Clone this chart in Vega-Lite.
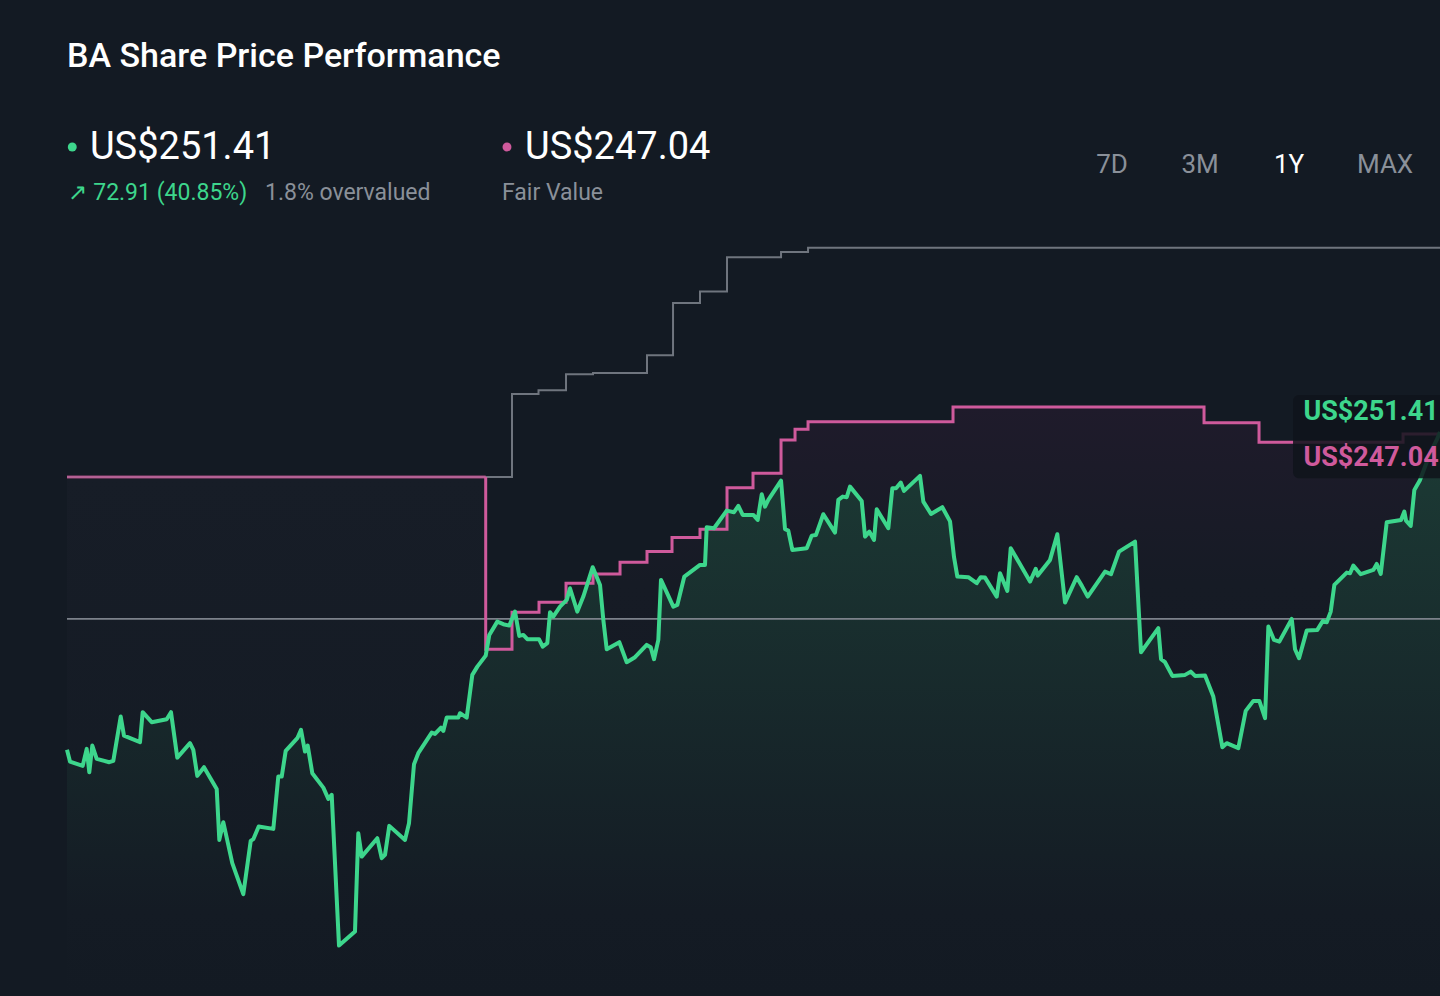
{
  "$schema": "https://vega.github.io/schema/vega-lite/v6.json",
  "width": 1440,
  "height": 996,
  "autosize": {"type": "none"},
  "padding": 0,
  "background": "#131a23",
  "config": {"view": {"stroke": null}, "font": "Roboto"},
  "datasets": {
    "price": [
      {"day": 0, "usd": 178.5}, {"day": 0.8, "usd": 175.78}, {"day": 4.17, "usd": 174.79}, {"day": 5.24, "usd": 178.69},
      {"day": 5.93, "usd": 173.35}, {"day": 6.73, "usd": 179.45}, {"day": 7.9, "usd": 176.4}, {"day": 11.25, "usd": 175.64},
      {"day": 12.31, "usd": 175.94}, {"day": 14.28, "usd": 186.1}, {"day": 15.15, "usd": 181.74}, {"day": 19.41, "usd": 180.23},
      {"day": 20.12, "usd": 187.11}, {"day": 22.52, "usd": 184.82}, {"day": 26.51, "usd": 185.5}, {"day": 27.65, "usd": 187.11},
      {"day": 29.32, "usd": 176.69}, {"day": 32.7, "usd": 180.0}, {"day": 33.58, "usd": 178.46}, {"day": 34.64, "usd": 172.5},
      {"day": 36.42, "usd": 174.49}, {"day": 39.8, "usd": 169.51}, {"day": 40.49, "usd": 157.81}, {"day": 41.55, "usd": 161.88},
      {"day": 43.94, "usd": 152.47}, {"day": 46.87, "usd": 145.36}, {"day": 48.84, "usd": 157.59}, {"day": 49.53, "usd": 157.98},
      {"day": 50.96, "usd": 160.87}, {"day": 54.85, "usd": 160.34}, {"day": 56.17, "usd": 172.34}, {"day": 57.08, "usd": 172.34},
      {"day": 58.14, "usd": 178.23}, {"day": 61.23, "usd": 181.14}, {"day": 62.21, "usd": 183.05}, {"day": 63.27, "usd": 178.07},
      {"day": 63.99, "usd": 179.45}, {"day": 65.21, "usd": 173.12}, {"day": 68.14, "usd": 169.81}, {"day": 69.47, "usd": 167.22},
      {"day": 70.37, "usd": 168.14}, {"day": 72.31, "usd": 133.57}, {"day": 76.56, "usd": 136.78}, {"day": 77.44, "usd": 159.35},
      {"day": 78.35, "usd": 153.98}, {"day": 82.49, "usd": 158.2}, {"day": 83.66, "usd": 153.62}, {"day": 84.54, "usd": 154.37},
      {"day": 85.68, "usd": 161.03}, {"day": 89.86, "usd": 157.81}, {"day": 90.92, "usd": 161.65}, {"day": 92.25, "usd": 175.18},
      {"day": 93.39, "usd": 177.7}, {"day": 96.96, "usd": 182.43}, {"day": 97.83, "usd": 182.13}, {"day": 99.43, "usd": 183.58},
      {"day": 100.04, "usd": 182.82}, {"day": 100.94, "usd": 185.87}, {"day": 104.03, "usd": 185.87}, {"day": 104.48, "usd": 186.88},
      {"day": 106.26, "usd": 185.87}, {"day": 107.75, "usd": 195.67}, {"day": 109.08, "usd": 197.57}, {"day": 111.31, "usd": 200.09},
      {"day": 112.27, "usd": 204.84}, {"day": 114.39, "usd": 207.89}, {"day": 115.99, "usd": 207.3}, {"day": 117.59, "usd": 206.98},
      {"day": 119.1, "usd": 210.19}, {"day": 120.24, "usd": 204.61}, {"day": 121.31, "usd": 204.84}, {"day": 122.37, "usd": 203.86},
      {"day": 125.48, "usd": 203.86}, {"day": 126.46, "usd": 202.16}, {"day": 127.69, "usd": 202.94}, {"day": 128.41, "usd": 210.05},
      {"day": 129.28, "usd": 209.04}, {"day": 131.06, "usd": 211.33}, {"day": 132.85, "usd": 212.87}, {"day": 133.72, "usd": 215.55},
      {"day": 135.66, "usd": 210.19}, {"day": 137.26, "usd": 213.63}, {"day": 139.76, "usd": 220.37}, {"day": 141.7, "usd": 216.31},
      {"day": 142.58, "usd": 208.28}, {"day": 143.48, "usd": 201.56}, {"day": 146.83, "usd": 203.17}, {"day": 148.8, "usd": 198.58},
      {"day": 151.0, "usd": 199.73}, {"day": 154.11, "usd": 202.55}, {"day": 155.18, "usd": 202.02}, {"day": 156.05, "usd": 199.27},
      {"day": 157.2, "usd": 203.69}, {"day": 157.91, "usd": 217.46}, {"day": 161.18, "usd": 211.33}, {"day": 162.25, "usd": 211.72},
      {"day": 164.11, "usd": 218.22}, {"day": 168.28, "usd": 220.9}, {"day": 169.61, "usd": 220.9}, {"day": 170.06, "usd": 229.55},
      {"day": 172.0, "usd": 229.32}, {"day": 175.38, "usd": 233.36}, {"day": 177.32, "usd": 232.99}, {"day": 178.47, "usd": 234.43},
      {"day": 179.63, "usd": 232.37}, {"day": 182.46, "usd": 232.37}, {"day": 183.62, "usd": 231.22}, {"day": 184.69, "usd": 237.12},
      {"day": 185.56, "usd": 234.27}, {"day": 186.44, "usd": 235.81}, {"day": 189.82, "usd": 240.24}, {"day": 190.88, "usd": 229.09},
      {"day": 191.75, "usd": 228.77}, {"day": 192.82, "usd": 224.34}, {"day": 196.65, "usd": 224.73}, {"day": 197.98, "usd": 227.62},
      {"day": 199.12, "usd": 227.78}, {"day": 201.06, "usd": 232.53}, {"day": 204.17, "usd": 228.31}, {"day": 205.05, "usd": 235.81},
      {"day": 206.22, "usd": 236.57}, {"day": 207.28, "usd": 236.43}, {"day": 208.16, "usd": 238.86}, {"day": 211.27, "usd": 235.58},
      {"day": 212.15, "usd": 227.39}, {"day": 213.29, "usd": 228.54}, {"day": 214.54, "usd": 226.63}, {"day": 215.26, "usd": 233.68},
      {"day": 218.34, "usd": 229.32}, {"day": 219.41, "usd": 238.49}, {"day": 220.39, "usd": 238.49}, {"day": 221.64, "usd": 239.78},
      {"day": 222.52, "usd": 237.88}, {"day": 226.77, "usd": 241.32}, {"day": 227.65, "usd": 235.42}, {"day": 229.69, "usd": 232.6},
      {"day": 232.7, "usd": 234.14}, {"day": 234.75, "usd": 230.88}, {"day": 235.81, "usd": 222.67}, {"day": 236.69, "usd": 218.22},
      {"day": 239.61, "usd": 218.08}, {"day": 241.84, "usd": 216.7}, {"day": 242.91, "usd": 218.08}, {"day": 244.05, "usd": 217.99},
      {"day": 247.16, "usd": 213.63}, {"day": 248.04, "usd": 219.0}, {"day": 249.98, "usd": 214.94}, {"day": 250.88, "usd": 224.73},
      {"day": 256.01, "usd": 217.07}, {"day": 257.53, "usd": 219.98}, {"day": 258.06, "usd": 218.45}, {"day": 261.33, "usd": 222.05},
      {"day": 263.27, "usd": 227.94}, {"day": 265.32, "usd": 212.25}, {"day": 268.43, "usd": 218.08}, {"day": 269.76, "usd": 216.15},
      {"day": 271.35, "usd": 213.63}, {"day": 275.95, "usd": 219.36}, {"day": 277.55, "usd": 218.77}, {"day": 279.67, "usd": 223.95},
      {"day": 283.93, "usd": 226.24}, {"day": 285.52, "usd": 200.87}, {"day": 290.12, "usd": 206.38}, {"day": 290.84, "usd": 199.27},
      {"day": 291.9, "usd": 198.58}, {"day": 293.84, "usd": 195.44}, {"day": 297.22, "usd": 195.67}, {"day": 298.74, "usd": 196.42},
      {"day": 299.88, "usd": 195.44}, {"day": 302.54, "usd": 195.51}, {"day": 304.74, "usd": 190.69}, {"day": 307.14, "usd": 179.08},
      {"day": 308.3, "usd": 180.0}, {"day": 311.39, "usd": 178.85}, {"day": 313.35, "usd": 187.41}, {"day": 315.38, "usd": 189.7},
      {"day": 316.97, "usd": 189.7}, {"day": 318.49, "usd": 185.73}, {"day": 319.37, "usd": 206.75}, {"day": 320.88, "usd": 203.69},
      {"day": 322.29, "usd": 203.3}, {"day": 325.59, "usd": 208.51}, {"day": 326.46, "usd": 201.56}, {"day": 327.53, "usd": 199.5},
      {"day": 329.57, "usd": 205.83}, {"day": 332.39, "usd": 205.99}, {"day": 333.83, "usd": 208.05}, {"day": 334.89, "usd": 207.75},
      {"day": 335.95, "usd": 210.19}, {"day": 336.91, "usd": 216.31}, {"day": 340.21, "usd": 219.13}, {"day": 341.09, "usd": 219.0},
      {"day": 341.96, "usd": 220.74}, {"day": 343.93, "usd": 218.77}, {"day": 347.28, "usd": 219.75}, {"day": 348.18, "usd": 221.13},
      {"day": 349.25, "usd": 218.84}, {"day": 350.84, "usd": 230.7}, {"day": 354.64, "usd": 231.22}, {"day": 355.52, "usd": 233.13},
      {"day": 355.97, "usd": 231.06}, {"day": 357.22, "usd": 229.85}, {"day": 358.18, "usd": 238.1}, {"day": 359.7, "usd": 240.4},
      {"day": 362.36, "usd": 246.52}, {"day": 364.13, "usd": 249.57}, {"day": 365, "usd": 251.41}
    ],
    "fairValueEarly": [
      {"day": 0, "usd": 241.09}, {"day": 111.31, "usd": 241.09}
    ],
    "fairValue": [
      {"day": 111.31, "usd": 241.09}, {"day": 111.31, "usd": 201.56}, {"day": 118.3, "usd": 210.05}, {"day": 125.48, "usd": 212.34},
      {"day": 132.66, "usd": 216.7}, {"day": 139.84, "usd": 218.84}, {"day": 147.02, "usd": 221.52}, {"day": 154.19, "usd": 223.95},
      {"day": 160.84, "usd": 227.16}, {"day": 168.28, "usd": 229.09}, {"day": 175.46, "usd": 238.63}, {"day": 182.37, "usd": 241.94},
      {"day": 189.82, "usd": 249.57}, {"day": 193.54, "usd": 252.03}, {"day": 197.0, "usd": 253.77}, {"day": 235.54, "usd": 257.15},
      {"day": 302.27, "usd": 253.54}, {"day": 316.89, "usd": 249.05}, {"day": 355.18, "usd": 250.95}, {"day": 365, "usd": 250.95}
    ],
    "target": [
      {"day": 0, "usd": 241.09}, {"day": 118.3, "usd": 260.13}, {"day": 125.35, "usd": 260.98}, {"day": 132.66, "usd": 264.65},
      {"day": 139.84, "usd": 264.94}, {"day": 154.19, "usd": 269.01}, {"day": 161.11, "usd": 281.0}, {"day": 168.28, "usd": 283.6},
      {"day": 175.46, "usd": 291.49}, {"day": 189.82, "usd": 292.7}, {"day": 197.0, "usd": 293.69}, {"day": 365, "usd": 293.69}
    ]
  },
  "layer": [
    {
      "data": {"name": "fairValue"},
      "mark": {"type": "area", "interpolate": "step-after",
        "color": {"gradient": "linear", "x1": 0, "y1": 0, "x2": 0, "y2": 1,
          "stops": [{"offset": 0, "color": "#1f1b2b"}, {"offset": 0.3, "color": "#161b25"}, {"offset": 1, "color": "#131a23"}]}},
      "encoding": {
        "x": {"field": "day", "type": "quantitative", "axis": null, "scale": {"domain": [-17.81, 365], "nice": false, "zero": false}},
        "y": {"field": "usd", "type": "quantitative", "axis": null, "scale": {"domain": [122, 350.5], "nice": false, "zero": false}},
        "y2": {"datum": 122}
      }
    },
    {
      "data": {"name": "fairValueEarly"},
      "mark": {"type": "area",
        "color": {"gradient": "linear", "x1": 0, "y1": 0, "x2": 0, "y2": 1,
          "stops": [{"offset": 0, "color": "#171d27"}, {"offset": 1, "color": "#131a23"}]}},
      "encoding": {
        "x": {"field": "day", "type": "quantitative", "axis": null, "scale": {"domain": [-17.81, 365], "nice": false, "zero": false}},
        "y": {"field": "usd", "type": "quantitative", "axis": null, "scale": {"domain": [122, 350.5], "nice": false, "zero": false}},
        "y2": {"datum": 122}
      }
    },
    {
      "data": {"name": "price"},
      "mark": {"type": "area",
        "color": {"gradient": "linear", "x1": 0, "y1": 0, "x2": 0, "y2": 1,
          "stops": [{"offset": 0, "color": "#1c3b35"}, {"offset": 0.85, "color": "#141b24"}, {"offset": 1, "color": "#131a23"}]}},
      "encoding": {
        "x": {"field": "day", "type": "quantitative", "axis": null, "scale": {"domain": [-17.81, 365], "nice": false, "zero": false}},
        "y": {"field": "usd", "type": "quantitative", "axis": null, "scale": {"domain": [122, 350.5], "nice": false, "zero": false}},
        "y2": {"datum": 122}
      }
    },
    {
      "data": {"values": [{"level": 208.51}]},
      "mark": {"type": "rule", "color": "#7c828b", "strokeWidth": 1.6},
      "encoding": {
        "x": {"datum": 0, "type": "quantitative", "axis": null, "scale": {"domain": [-17.81, 365], "nice": false, "zero": false}},
        "x2": {"datum": 365},
        "y": {"field": "level", "type": "quantitative", "axis": null, "scale": {"domain": [122, 350.5], "nice": false, "zero": false}}
      }
    },
    {
      "data": {"name": "target"},
      "mark": {"type": "line", "interpolate": "step-after", "color": "#6f757e", "strokeWidth": 2},
      "encoding": {
        "x": {"field": "day", "type": "quantitative", "axis": null, "scale": {"domain": [-17.81, 365], "nice": false, "zero": false}},
        "y": {"field": "usd", "type": "quantitative", "axis": null, "scale": {"domain": [122, 350.5], "nice": false, "zero": false}}
      }
    },
    {
      "data": {"name": "fairValueEarly"},
      "mark": {"type": "line", "color": "#cf5a9c", "opacity": 0.72, "strokeWidth": 3},
      "encoding": {
        "x": {"field": "day", "type": "quantitative", "axis": null, "scale": {"domain": [-17.81, 365], "nice": false, "zero": false}},
        "y": {"field": "usd", "type": "quantitative", "axis": null, "scale": {"domain": [122, 350.5], "nice": false, "zero": false}}
      }
    },
    {
      "data": {"name": "fairValue"},
      "mark": {"type": "line", "interpolate": "step-after", "color": "#cf5a9c", "strokeWidth": 3},
      "encoding": {
        "x": {"field": "day", "type": "quantitative", "axis": null, "scale": {"domain": [-17.81, 365], "nice": false, "zero": false}},
        "y": {"field": "usd", "type": "quantitative", "axis": null, "scale": {"domain": [122, 350.5], "nice": false, "zero": false}}
      }
    },
    {
      "data": {"name": "price"},
      "mark": {"type": "line", "color": "#3dd68c", "strokeWidth": 4, "strokeJoin": "round"},
      "encoding": {
        "x": {"field": "day", "type": "quantitative", "axis": null, "scale": {"domain": [-17.81, 365], "nice": false, "zero": false}},
        "y": {"field": "usd", "type": "quantitative", "axis": null, "scale": {"domain": [122, 350.5], "nice": false, "zero": false}}
      }
    },
    {
      "data": {"values": [{}]},
      "mark": {"type": "rect", "color": "#0f141b", "opacity": 0.85, "cornerRadius": 6},
      "encoding": {
        "x": {"datum": 325.93, "type": "quantitative", "scale": {"domain": [-17.81, 365], "nice": false, "zero": false}},
        "x2": {"datum": 372},
        "y": {"datum": 259.9, "type": "quantitative", "scale": {"domain": [122, 350.5], "nice": false, "zero": false}},
        "y2": {"datum": 240.8}
      }
    },
    {
      "data": {"values": [{}]},
      "mark": {"type": "text", "text": "US$251.41", "align": "left", "baseline": "middle",
        "fontSize": 27, "fontWeight": "bold", "color": "#3dd68c"},
      "encoding": {
        "x": {"datum": 328.7, "type": "quantitative", "scale": {"domain": [-17.81, 365], "nice": false, "zero": false}},
        "y": {"datum": 255.98, "type": "quantitative", "scale": {"domain": [122, 350.5], "nice": false, "zero": false}}
      }
    },
    {
      "data": {"values": [{}]},
      "mark": {"type": "text", "text": "US$247.04", "align": "left", "baseline": "middle",
        "fontSize": 27, "fontWeight": "bold", "color": "#cf5a9c"},
      "encoding": {
        "x": {"datum": 328.7, "type": "quantitative", "scale": {"domain": [-17.81, 365], "nice": false, "zero": false}},
        "y": {"datum": 245.43, "type": "quantitative", "scale": {"domain": [122, 350.5], "nice": false, "zero": false}}
      }
    },
    {
      "data": {"values": [{}]},
      "mark": {"type": "text", "text": "BA Share Price Performance", "align": "left", "baseline": "middle",
        "fontSize": 34, "fontWeight": 500, "color": "#ffffff"},
      "encoding": {
        "x": {"datum": 0, "type": "quantitative", "scale": {"domain": [-17.81, 365], "nice": false, "zero": false}},
        "y": {"datum": 337.5, "type": "quantitative", "scale": {"domain": [122, 350.5], "nice": false, "zero": false}}
      }
    },
    {
      "data": {"values": [{}]},
      "mark": {"type": "circle", "size": 80, "opacity": 1, "color": "#3dd68c"},
      "encoding": {
        "x": {"datum": 1.4, "type": "quantitative", "scale": {"domain": [-17.81, 365], "nice": false, "zero": false}},
        "y": {"datum": 316.78, "type": "quantitative", "scale": {"domain": [122, 350.5], "nice": false, "zero": false}}
      }
    },
    {
      "data": {"values": [{}]},
      "mark": {"type": "text", "text": "US$251.41", "align": "left", "baseline": "middle",
        "fontSize": 38, "color": "#ffffff"},
      "encoding": {
        "x": {"datum": 6.11, "type": "quantitative", "scale": {"domain": [-17.81, 365], "nice": false, "zero": false}},
        "y": {"datum": 316.5, "type": "quantitative", "scale": {"domain": [122, 350.5], "nice": false, "zero": false}}
      }
    },
    {
      "data": {"values": [{}]},
      "mark": {"type": "text", "text": "↗ 72.91 (40.85%)", "align": "left", "baseline": "middle",
        "fontSize": 23, "color": "#3dd68c"},
      "encoding": {
        "x": {"datum": 0.4, "type": "quantitative", "scale": {"domain": [-17.81, 365], "nice": false, "zero": false}},
        "y": {"datum": 306.2, "type": "quantitative", "scale": {"domain": [122, 350.5], "nice": false, "zero": false}}
      }
    },
    {
      "data": {"values": [{}]},
      "mark": {"type": "text", "text": "1.8% overvalued", "align": "left", "baseline": "middle",
        "fontSize": 23, "color": "#8a9099"},
      "encoding": {
        "x": {"datum": 52.64, "type": "quantitative", "scale": {"domain": [-17.81, 365], "nice": false, "zero": false}},
        "y": {"datum": 306.2, "type": "quantitative", "scale": {"domain": [122, 350.5], "nice": false, "zero": false}}
      }
    },
    {
      "data": {"values": [{}]},
      "mark": {"type": "circle", "size": 80, "opacity": 1, "color": "#cf5a9c"},
      "encoding": {
        "x": {"datum": 116.97, "type": "quantitative", "scale": {"domain": [-17.81, 365], "nice": false, "zero": false}},
        "y": {"datum": 316.78, "type": "quantitative", "scale": {"domain": [122, 350.5], "nice": false, "zero": false}}
      }
    },
    {
      "data": {"values": [{}]},
      "mark": {"type": "text", "text": "US$247.04", "align": "left", "baseline": "middle",
        "fontSize": 38, "color": "#ffffff"},
      "encoding": {
        "x": {"datum": 121.76, "type": "quantitative", "scale": {"domain": [-17.81, 365], "nice": false, "zero": false}},
        "y": {"datum": 316.5, "type": "quantitative", "scale": {"domain": [122, 350.5], "nice": false, "zero": false}}
      }
    },
    {
      "data": {"values": [{}]},
      "mark": {"type": "text", "text": "Fair Value", "align": "left", "baseline": "middle",
        "fontSize": 23, "color": "#8a9099"},
      "encoding": {
        "x": {"datum": 115.64, "type": "quantitative", "scale": {"domain": [-17.81, 365], "nice": false, "zero": false}},
        "y": {"datum": 306.2, "type": "quantitative", "scale": {"domain": [122, 350.5], "nice": false, "zero": false}}
      }
    },
    {
      "data": {"values": [{}]},
      "mark": {"type": "text", "text": "7D", "align": "center", "baseline": "middle", "fontSize": 26, "color": "#8a9099"},
      "encoding": {
        "x": {"datum": 277.81, "type": "quantitative", "scale": {"domain": [-17.81, 365], "nice": false, "zero": false}},
        "y": {"datum": 312.6, "type": "quantitative", "scale": {"domain": [122, 350.5], "nice": false, "zero": false}}
      }
    },
    {
      "data": {"values": [{}]},
      "mark": {"type": "text", "text": "3M", "align": "center", "baseline": "middle", "fontSize": 26, "color": "#8a9099"},
      "encoding": {
        "x": {"datum": 301.21, "type": "quantitative", "scale": {"domain": [-17.81, 365], "nice": false, "zero": false}},
        "y": {"datum": 312.6, "type": "quantitative", "scale": {"domain": [122, 350.5], "nice": false, "zero": false}}
      }
    },
    {
      "data": {"values": [{}]},
      "mark": {"type": "text", "text": "1Y", "align": "center", "baseline": "middle", "fontSize": 26, "color": "#ffffff"},
      "encoding": {
        "x": {"datum": 324.87, "type": "quantitative", "scale": {"domain": [-17.81, 365], "nice": false, "zero": false}},
        "y": {"datum": 312.6, "type": "quantitative", "scale": {"domain": [122, 350.5], "nice": false, "zero": false}}
      }
    },
    {
      "data": {"values": [{}]},
      "mark": {"type": "text", "text": "MAX", "align": "center", "baseline": "middle", "fontSize": 26, "color": "#8a9099"},
      "encoding": {
        "x": {"datum": 350.39, "type": "quantitative", "scale": {"domain": [-17.81, 365], "nice": false, "zero": false}},
        "y": {"datum": 312.6, "type": "quantitative", "scale": {"domain": [122, 350.5], "nice": false, "zero": false}}
      }
    }
  ]
}
